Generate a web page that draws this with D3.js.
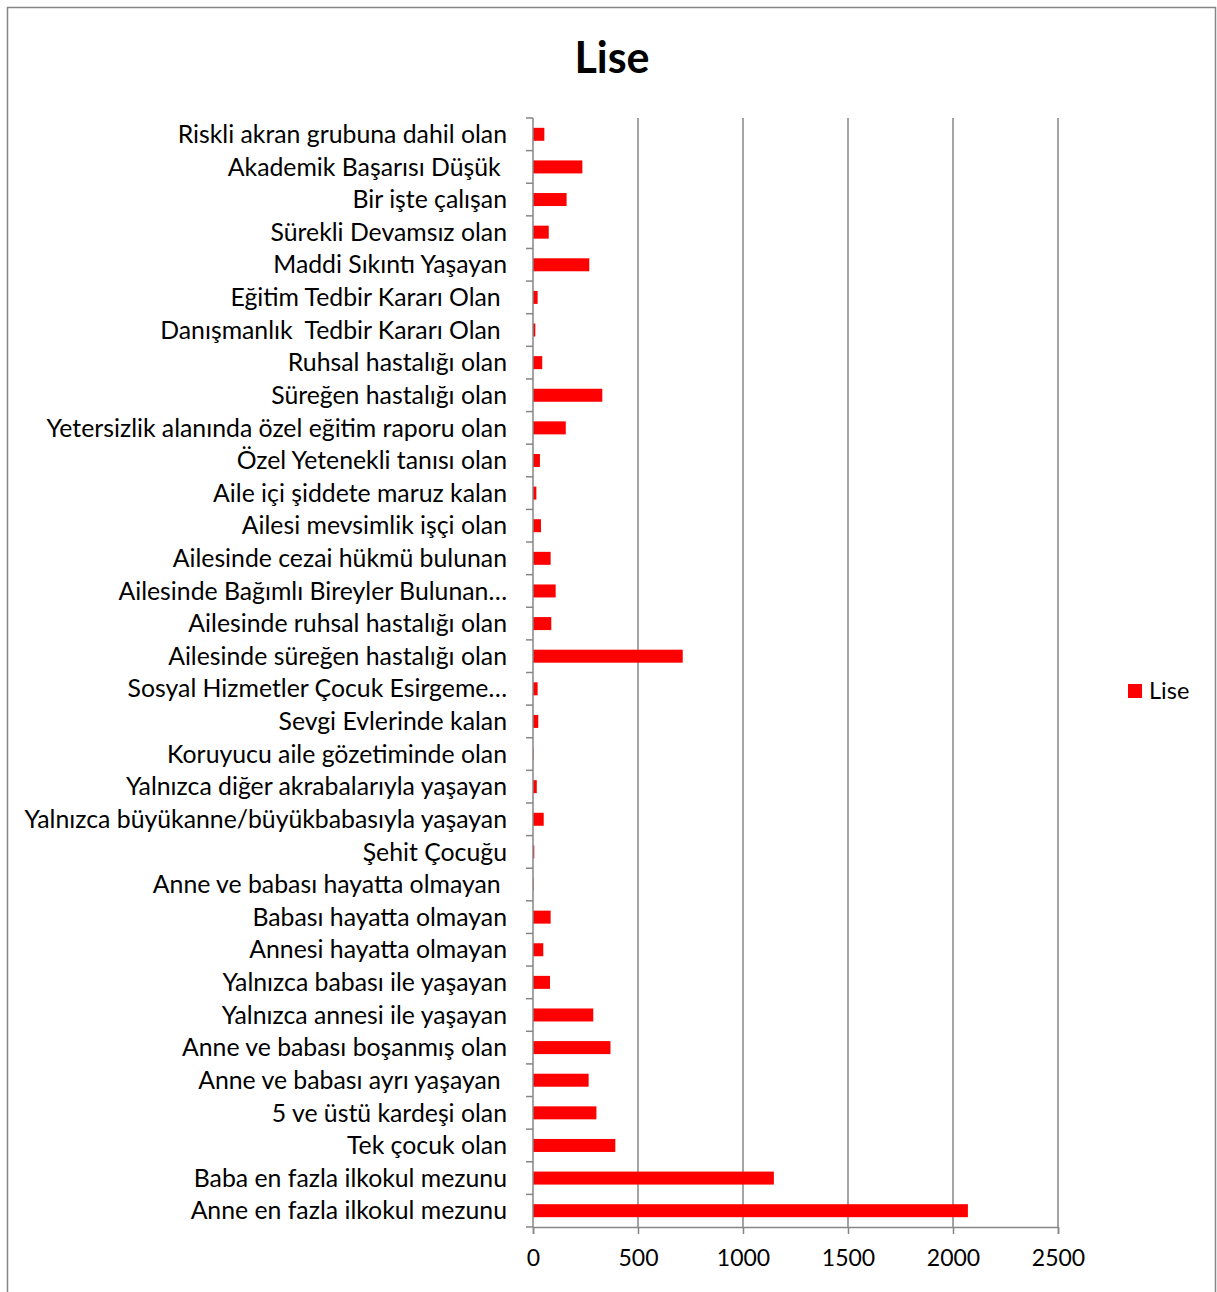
<!DOCTYPE html>
<html>
<head>
<meta charset="utf-8">
<script src="https://cdn.jsdelivr.net/npm/d3@7"></script>
<style>
body { margin: 0; background: #fff; }
text { font-family: Lato, "Noto Sans", sans-serif; }
</style>
</head>
<body>
<div id="chart"></div>
<script>
// categories top to bottom, as in the picture
var categories = [
  "Riskli akran grubuna dahil olan",
  "Akademik Başarısı Düşük ",
  "Bir işte çalışan",
  "Sürekli Devamsız olan",
  "Maddi Sıkıntı Yaşayan",
  "Eğitim Tedbir Kararı Olan ",
  "Danışmanlık  Tedbir Kararı Olan ",
  "Ruhsal hastalığı olan",
  "Süreğen hastalığı olan",
  "Yetersizlik alanında özel eğitim raporu olan",
  "Özel Yetenekli tanısı olan",
  "Aile içi şiddete maruz kalan",
  "Ailesi mevsimlik işçi olan",
  "Ailesinde cezai hükmü bulunan",
  "Ailesinde Bağımlı Bireyler Bulunan…",
  "Ailesinde ruhsal hastalığı olan",
  "Ailesinde süreğen hastalığı olan",
  "Sosyal Hizmetler Çocuk Esirgeme…",
  "Sevgi Evlerinde kalan",
  "Koruyucu aile gözetiminde olan",
  "Yalnızca diğer akrabalarıyla yaşayan",
  "Yalnızca büyükanne/büyükbabasıyla yaşayan",
  "Şehit Çocuğu",
  "Anne ve babası hayatta olmayan ",
  "Babası hayatta olmayan",
  "Annesi hayatta olmayan",
  "Yalnızca babası ile yaşayan",
  "Yalnızca annesi ile yaşayan",
  "Anne ve babası boşanmış olan",
  "Anne ve babası ayrı yaşayan ",
  "5 ve üstü kardeşi olan",
  "Tek çocuk olan",
  "Baba en fazla ilkokul mezunu",
  "Anne en fazla ilkokul mezunu"
];
var liseValues = [54, 235, 160, 75, 268, 22, 11, 44, 330, 156, 33, 16, 38, 84,
  108, 87, 713, 22, 25, 2, 18, 51, 6, 2, 84, 49, 81, 287, 369, 265, 302, 392, 1147, 2071];
var xTicks = [0, 500, 1000, 1500, 2000, 2500];
var seriesName = "Lise";

var width = 1217, height = 1292;
var svg = d3.select("#chart").append("svg")
  .attr("width", width)
  .attr("height", height);

svg.append("rect")
  .attr("x", 7.5).attr("y", 7.5)
  .attr("width", 1208).attr("height", 1290)
  .attr("fill", "#fff")
  .attr("stroke", "#868686")
  .attr("stroke-width", 1.5);

svg.append("text")
  .attr("x", 612).attr("y", 73)
  .attr("text-anchor", "middle")
  .style("font-weight", "bold")
  .style("font-size", "43px")
  .text(seriesName);

var plotL = 533, plotR = 1058, plotT = 118, plotB = 1227;

var x = d3.scaleLinear().domain([0, 2500]).range([plotL, plotR]);
var band = d3.scaleBand().domain(categories).range([plotT, plotB]);
var barH = 13;

// grid lines
svg.selectAll(".grid")
  .data(xTicks.slice(1))
  .enter().append("line")
  .attr("x1", function(d) { return x(d); })
  .attr("x2", function(d) { return x(d); })
  .attr("y1", plotT).attr("y2", plotB)
  .attr("stroke", "#868686")
  .attr("stroke-width", 1.5);

// bars
svg.selectAll(".bar")
  .data(liseValues)
  .enter().append("rect")
  .attr("x", x(0))
  .attr("y", function(d, i) { return band(categories[i]) + band.bandwidth() / 2 - barH / 2; })
  .attr("width", function(d) { return x(d) - x(0); })
  .attr("height", barH)
  .attr("fill", "#ff0000");

// y axis line + ticks at band edges
svg.append("line")
  .attr("x1", plotL).attr("x2", plotL)
  .attr("y1", plotT).attr("y2", plotB)
  .attr("stroke", "#868686").attr("stroke-width", 1.5);

var edges = categories.map(function(c) { return band(c); }).concat([plotB]);
svg.selectAll(".ytick")
  .data(edges)
  .enter().append("line")
  .attr("x1", plotL - 7).attr("x2", plotL)
  .attr("y1", function(d) { return d; })
  .attr("y2", function(d) { return d; })
  .attr("stroke", "#868686").attr("stroke-width", 1.5);

// category labels
svg.selectAll(".ylabel")
  .data(categories)
  .enter().append("text")
  .attr("x", 507)
  .attr("y", function(d) { return band(d) + band.bandwidth() / 2; })
  .attr("dy", "0.35em")
  .attr("text-anchor", "end")
  .style("white-space", "pre")
  .style("font-size", "24.8px")
  .attr("fill", "#000")
  .text(function(d) { return d; });

// x axis
var xAxis = svg.append("g")
  .attr("transform", "translate(0," + plotB + ")")
  .call(d3.axisBottom(x).tickValues(xTicks).tickSize(7).tickPadding(16).tickFormat(d3.format("d")));
xAxis.select(".domain").attr("stroke", "#868686").attr("stroke-width", 1.5);
xAxis.selectAll(".tick line").attr("stroke", "#868686").attr("stroke-width", 1.5);
xAxis.selectAll(".tick text")
  .style("font-family", "Lato, sans-serif")
  .style("font-size", "23px")
  .attr("fill", "#000");

// legend
var legend = svg.append("g").attr("transform", "translate(1128,684)");
legend.append("rect")
  .attr("width", 14).attr("height", 14)
  .attr("fill", "#ff0000");
legend.append("text")
  .attr("x", 21).attr("y", 7)
  .attr("dy", "0.35em")
  .style("font-size", "23.5px")
  .text(seriesName);
</script>
</body>
</html>
